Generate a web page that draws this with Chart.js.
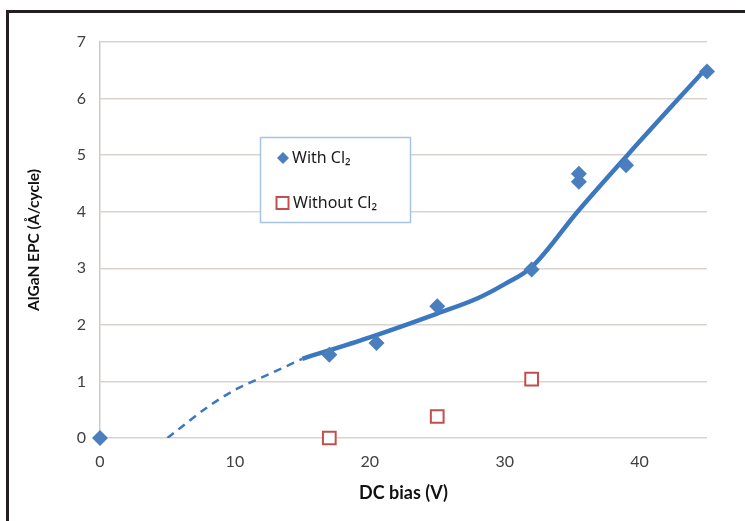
<!DOCTYPE html>
<html>
<head>
<meta charset="utf-8">
<script src="https://cdn.jsdelivr.net/npm/chart.js@4/dist/chart.umd.min.js"></script>
<style>
html,body{margin:0;padding:0;background:#fff;}
#wrap{position:absolute;left:0;top:0;width:745px;height:521px;}
</style>
</head>
<body>
<div id="wrap"><canvas id="c" width="745" height="521"></canvas></div>
<script>
// Data
const xWith = [0, 17, 20.5, 25, 32, 35.5, 35.5, 39, 45];
const yWith = [0, 1.47, 1.68, 2.33, 2.98, 4.53, 4.67, 4.82, 6.48];
const xWithout = [17, 25, 32];
const yWithout = [0, 0.38, 1.04];
const fitX = [15, 20, 25, 28, 30, 32, 35.4, 39.1, 45];
const fitY = [1.4, 1.78, 2.2, 2.47, 2.72, 3.02, 4.0, 5.0, 6.55];
const dashX = [5, 8, 10, 12, 15];
const dashY = [0, 0.55, 0.85, 1.07, 1.4];
const xTicks = [0, 10, 20, 30, 40];
const yTicks = [0, 1, 2, 3, 4, 5, 6, 7];
const seriesNames = ['With Cl₂', 'Without Cl₂'];

const pts = (xs, ys) => xs.map((x, i) => ({x: x, y: ys[i]}));
const BLUE = '#4a7ebf';
const LINE = '#3c78bf';
const RED = '#c0504d';
const FONT = 'Lato, "Open Sans", sans-serif';

const frame = {
  id: 'frame',
  beforeDraw(chart) {
    const ctx = chart.ctx;
    ctx.save();
    ctx.fillStyle = '#fff';
    ctx.fillRect(0, 0, chart.width, chart.height);
    ctx.strokeStyle = '#231f20';
    ctx.lineWidth = 3;
    ctx.beginPath();
    ctx.moveTo(7.5, 521);
    ctx.lineTo(7.5, 11.5);
    ctx.lineTo(745, 11.5);
    ctx.stroke();
    ctx.restore();
  }
};

const boxLegend = {
  id: 'boxLegend',
  afterDraw(chart) {
    const ctx = chart.ctx;
    ctx.save();
    ctx.fillStyle = '#fff';
    ctx.fillRect(260, 137, 150, 85);
    ctx.strokeStyle = '#a7c4e2';
    ctx.lineWidth = 1.5;
    ctx.strokeRect(260.5, 137.5, 150, 85);
    // diamond
    ctx.fillStyle = BLUE;
    ctx.beginPath();
    ctx.moveTo(283, 152); ctx.lineTo(289, 158); ctx.lineTo(283, 164); ctx.lineTo(277, 158);
    ctx.closePath(); ctx.fill();
    // square
    ctx.strokeStyle = RED; ctx.lineWidth = 2;
    ctx.strokeRect(276.5, 197, 12, 12);
    ctx.fillStyle = '#1a1a1a';
    ctx.font = '16px "Noto Sans", "Open Sans", sans-serif';
    ctx.textBaseline = 'middle';
    ctx.fillText(seriesNames[0], 292, 158);
    ctx.fillText(seriesNames[1], 293, 203);
    ctx.restore();
  }
};

new Chart(document.getElementById('c'), {
  type: 'scatter',
  data: {
    datasets: [
      {
        label: 'fit', data: pts(fitX, fitY), showLine: true,
        borderColor: LINE, borderWidth: 4.5, pointRadius: 0,
        cubicInterpolationMode: 'monotone', order: 3
      },
      {
        label: 'fitdash', data: pts(dashX, dashY), showLine: true,
        borderColor: LINE, borderWidth: 2.5, borderDash: [8, 6], pointRadius: 0,
        cubicInterpolationMode: 'monotone', order: 4
      },
      {
        label: seriesNames[0], data: pts(xWith, yWith), clip: false,
        pointStyle: 'rectRot', pointRadius: 8, pointBackgroundColor: BLUE,
        pointBorderColor: BLUE, pointBorderWidth: 0, order: 1
      },
      {
        label: seriesNames[1], data: pts(xWithout, yWithout), clip: false,
        pointStyle: 'rect', pointRadius: 9, pointBackgroundColor: '#fff',
        pointBorderColor: RED, pointBorderWidth: 2, order: 2
      }
    ]
  },
  options: {
    responsive: false,
    animation: false,
    layout: {padding: {left: 10, right: 38, top: 42, bottom: 10}},
    plugins: {legend: {display: false}, tooltip: {enabled: false}},
    scales: {
      x: {
        type: 'linear', min: 0, max: 45,
        afterBuildTicks(s) { s.ticks = xTicks.map(v => ({value: v})); },
        afterFit(s) { s.height = 73; },
        grid: {display: false, drawTicks: false},
        border: {display: false},
        ticks: {padding: 14, color: '#404040', font: {family: FONT, size: 16}},
        title: {display: true, text: 'DC bias (V)', color: '#111',
          font: {family: FONT, size: 18, weight: 'bold'},
          padding: {top: 0, bottom: 7}}
      },
      y: {
        type: 'linear', min: 0, max: 7,
        afterBuildTicks(s) { s.ticks = yTicks.map(v => ({value: v})); },
        afterFit(s) { s.width = 90; },
        grid: {color: '#d9d3cf', lineWidth: 1.5, drawTicks: false},
        border: {display: true, color: '#cfc9c6', width: 1.5},
        ticks: {padding: 14, color: '#404040', font: {family: FONT, size: 16}},
        title: {display: true, text: 'AlGaN EPC (Å/cycle)', color: '#111',
          font: {family: FONT, size: 15.5, weight: 'bold'},
          padding: {top: 15, bottom: 0}}
      }
    }
  },
  plugins: [frame, boxLegend]
});
</script>
</body>
</html>
